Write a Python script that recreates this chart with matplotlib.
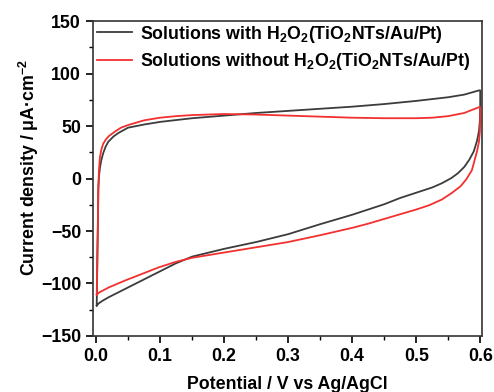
import matplotlib
matplotlib.use("Agg")
import matplotlib.pyplot as plt
from matplotlib.ticker import MultipleLocator

plt.rcParams.update({
    "font.family": ["Liberation Sans", "DejaVu Sans"],
    "font.weight": "bold",
    "font.size": 12.8,
    "mathtext.fontset": "custom",
    "mathtext.bf": "Liberation Sans:bold",
    "mathtext.rm": "Liberation Sans:bold",
    "mathtext.default": "bf",
})

# --- CV with H2O2: forward sweep (0 -> 0.6 V) then reverse sweep (0.6 -> 0 V) ---
with_fwd_x = [0.001, 0.0015, 0.002, 0.003, 0.0035, 0.0045, 0.006, 0.008, 0.011, 0.015,
              0.019, 0.027, 0.035, 0.05, 0.075, 0.1, 0.15, 0.2, 0.25, 0.3,
              0.35, 0.4, 0.45, 0.475, 0.5, 0.55, 0.575, 0.598]
with_fwd_y = [-121, -100, -70, -35, -10, 2, 10, 17, 24, 30.5,
              35, 40, 43.5, 48.5, 51.5, 54, 57.5, 60, 62.5, 64.5,
              66.5, 68.5, 71, 72.5, 74, 77.5, 80, 84]
with_rev_x = [0.6, 0.6, 0.5995, 0.598, 0.595, 0.59, 0.583, 0.575, 0.565, 0.555,
              0.54, 0.525, 0.5, 0.475, 0.45, 0.425, 0.4, 0.35, 0.3, 0.25,
              0.2, 0.15, 0.124, 0.098, 0.072, 0.046, 0.02, 0.01, 0.004, 0.001]
with_rev_y = [84, 70, 55, 45, 36, 26, 18, 11, 5, 0.5,
              -4.5, -8.5, -13.5, -18.5, -24.5, -29.5, -34.5, -43.5, -53, -60.5,
              -67, -74.4, -81, -89, -97, -105, -113, -116.5, -119, -121]

# --- CV without H2O2 ---
wo_fwd_x = [0.001, 0.002, 0.003, 0.0035, 0.0045, 0.006, 0.008, 0.011, 0.015, 0.02,
            0.03, 0.039, 0.05, 0.075, 0.1, 0.125, 0.15, 0.2, 0.25, 0.3,
            0.35, 0.4, 0.45, 0.5, 0.525, 0.55, 0.575, 0.598]
wo_fwd_y = [-110.7, -80, -40, -10, 8, 20, 27, 33, 37, 40.5,
            45, 48.5, 51, 55.5, 58, 59.5, 60.5, 61.5, 61, 60,
            59, 58, 57.5, 57.5, 58, 59.5, 62.5, 68]
wo_rev_x = [0.6, 0.6, 0.5995, 0.598, 0.595, 0.587, 0.578, 0.569, 0.555, 0.54,
            0.52, 0.5, 0.475, 0.45, 0.425, 0.4, 0.35, 0.3, 0.25, 0.2,
            0.175, 0.15, 0.124, 0.098, 0.072, 0.046, 0.02, 0.005, 0.001]
wo_rev_y = [68, 55, 45, 35, 26, 8, -1, -7.5, -14, -20,
            -25.5, -29.5, -34, -38.5, -43, -47, -54, -60.5, -65.5, -70.5,
            -73, -75.5, -79.5, -84.6, -90.8, -97, -103.7, -108.5, -110.7]

labels = ["Solutions with H$_2$O$_2$(TiO$_2$NTs/Au/Pt)",
          "Solutions without H$_2$O$_2$(TiO$_2$NTs/Au/Pt)"]
colors = ["#3c3c3c", "#f2302f"]

fig = plt.figure(figsize=(4.94, 3.92), dpi=100)
ax = fig.add_axes([0.188, 0.143, 0.788, 0.803])

ax.plot(with_fwd_x + with_rev_x, with_fwd_y + with_rev_y, color=colors[0], lw=1.3, label=labels[0])
ax.plot(wo_fwd_x + wo_rev_x, wo_fwd_y + wo_rev_y, color=colors[1], lw=1.3, label=labels[1])

ax.set_xlim(-0.005, 0.603)
ax.set_ylim(-150, 150)
ax.xaxis.set_major_locator(MultipleLocator(0.1))
ax.xaxis.set_minor_locator(MultipleLocator(0.05))
ax.yaxis.set_major_locator(MultipleLocator(50))
ax.yaxis.set_minor_locator(MultipleLocator(25))
ax.tick_params(which="major", direction="out", length=5, width=1.2, labelsize=12.8)
ax.tick_params(which="minor", direction="out", length=3, width=1.0)
for s in ax.spines.values():
    s.set_linewidth(1.2)
    s.set_color("#333333")

ax.set_xlabel("Potential / V vs Ag/AgCl", fontweight="bold", labelpad=8)
ax.set_ylabel("Current density / μA·cm$^{-2}$", fontweight="bold", labelpad=0)
ax.yaxis.label.set_y(0.535)

ax.legend(loc="upper left", bbox_to_anchor=(-0.018, 1.026), frameon=False,
          handlelength=1.97, handletextpad=0.5, labelspacing=0.38, borderaxespad=0.2)

fig.savefig("out.png", dpi=100)
